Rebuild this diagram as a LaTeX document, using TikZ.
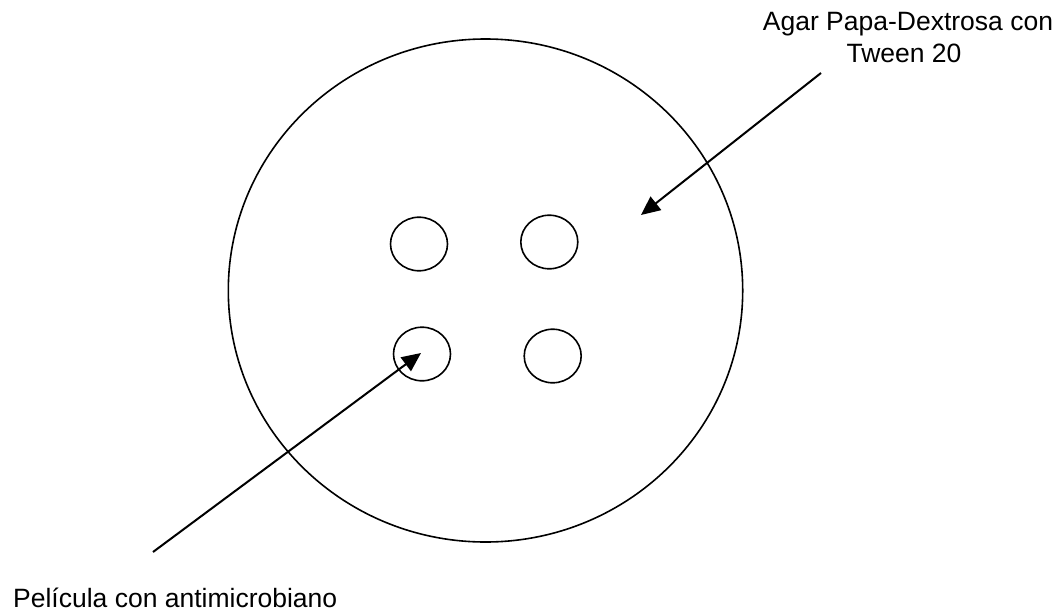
\documentclass[tikz,border=0pt]{standalone}
\usepackage{fontspec}
\setmainfont{Liberation Sans}
\usetikzlibrary{shapes.geometric,arrows.meta}
\begin{document}
\begin{tikzpicture}[x=1pt,y=-1pt,
  plate/.style={ellipse,draw,line width=1.6pt,inner sep=0pt,minimum width=514.4pt,minimum height=503pt},
  disc/.style={ellipse,draw,line width=1.6pt,inner sep=0pt,minimum width=57pt,minimum height=53.6pt},
  pointer/.style={line width=2pt,-{Triangle[length=19pt,width=17pt]}},
  lbl/.style={font=\fontsize{26.5}{32}\selectfont,inner sep=0pt}]
\useasboundingbox (0,0) rectangle (1056,613);
\node[plate] (plate) at (485.5,290.5) {};
\node[disc] (d1) at (419,244) {};
\node[disc] (d2) at (549.3,242) {};
\node[disc] (d3) at (422,354) {};
\node[disc] (d4) at (552.7,356) {};
\node[lbl,anchor=base] (agar1) at (908,30) {Agar Papa-Dextrosa con};
\node[lbl,anchor=base] (agar2) at (904,62) {Tween 20};
\node[lbl,anchor=base west] (peli) at (13,607) {Película con antimicrobiano};
\coordinate (agarTail) at (821,73);
\coordinate (agarTip) at (641,215);
\coordinate (peliTail) at (153,552);
\coordinate (peliTip) at (421,353);
\draw[pointer] (agarTail) -- (agarTip);
\draw[pointer] (peliTail) -- (peliTip);
\end{tikzpicture}
\end{document}
